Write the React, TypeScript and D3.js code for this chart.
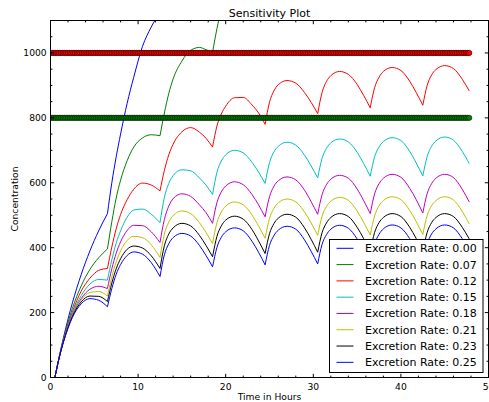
import React from 'react';
import * as d3 from 'd3';

// Simulation time grid (hours)
const times = [
  0.5, 1, 1.5, 2, 2.5, 3.5, 4.5, 5.5,
  6.5, 7, 7.5, 8, 8.75, 9.5, 10.5, 11.5,
  12.5, 13, 13.5, 14, 15, 16, 17, 17.75,
  18.5, 19, 19.5, 20, 21, 22, 23, 23.75,
  24.5, 25, 25.5, 26, 27, 28, 29, 29.75,
  30.5, 31, 31.5, 32, 33, 34, 35, 35.75,
  36.5, 37, 37.5, 38, 39, 40, 41, 41.75,
  42.5, 43, 43.5, 44, 45, 46, 47, 47.8,
];
const doseTimes = [6.5, 12.5, 18.5, 24.5, 30.5, 36.5, 42.5];
const rateLabels = ['0.00', '0.07', '0.12', '0.15', '0.18', '0.21', '0.23', '0.25'];

const N = null;
const conc000 = [
  0, 65, 125, 180, 230, 317, 390, 452,
  505, 600, 680, 750, 845, 925, 1020, 1080,
  1125, N, N, N, N, N, N, N,
  N, N, N, N, N, N, N, N,
  N, N, N, N, N, N, N, N,
  N, N, N, N, N, N, N, N,
  N, N, N, N, N, N, N, N,
  N, N, N, N, N, N, N, N,
];
const conc007 = [
  0, 64, 120, 170, 213, 282, 333, 369,
  396, 480, 553, 608, 668, 710, 738, 748,
  745, 815, 875, 920, 975, 1008, 1017, 1010,
  1002, 1075, 1135, N, N, N, N, N,
  N, N, N, N, N, N, N, N,
  N, N, N, N, N, N, N, N,
  N, N, N, N, N, N, N, N,
  N, N, N, N, N, N, N, N,
];
const conc012 = [
  0, 63, 117, 163, 202, 266, 306, 330,
  336, 402, 458, 502, 548, 580, 599, 593,
  575, 638, 686, 719, 757, 770, 756, 737,
  710, 775, 812, 836, 862, 863, 840, 815,
  780, 848, 883, 902, 915, 907, 878, 848,
  813, 878, 912, 930, 943, 934, 903, 869,
  831, 893, 925, 943, 955, 946, 913, 878,
  839, 900, 932, 949, 961, 952, 919, 883,
];
const conc015 = [
  0, 63, 115, 160, 197, 252, 288, 302,
  300, 363, 414, 452, 494, 516, 519, 503,
  477, 555, 598, 622, 640, 637, 615, 593,
  564, 632, 667, 686, 700, 692, 663, 633,
  598, 662, 695, 712, 725, 716, 685, 652,
  615, 675, 706, 723, 735, 726, 694, 659,
  620, 680, 710, 727, 739, 730, 697, 661,
  621, 681, 712, 729, 741, 731, 697, 659,
];
const conc018 = [
  0, 62, 114, 157, 192, 243, 272, 281,
  274, 335, 383, 418, 453, 469, 468, 449,
  416, 487, 528, 551, 566, 558, 532, 508,
  475, 539, 572, 590, 603, 594, 564, 532,
  495, 557, 589, 606, 618, 609, 577, 542,
  503, 563, 594, 611, 623, 614, 581, 545,
  505, 566, 597, 614, 626, 617, 583, 548,
  507, 567, 597, 614, 626, 616, 580, 541,
];
const conc021 = [
  0, 62, 113, 156, 191, 239, 262, 265,
  251, 310, 356, 390, 422, 435, 431, 409,
  370, 442, 479, 499, 513, 505, 477, 447,
  413, 477, 510, 528, 541, 532, 501, 467,
  429, 490, 521, 538, 550, 541, 510, 476,
  438, 497, 527, 543, 555, 546, 513, 478,
  439, 498, 529, 545, 557, 548, 515, 480,
  441, 499, 529, 545, 557, 547, 512, 473,
];
const conc023 = [
  0, 62, 112, 154, 188, 233, 251, 250,
  234, 291, 335, 366, 395, 405, 399, 375,
  336, 406, 442, 461, 475, 467, 438, 407,
  372, 435, 467, 485, 497, 488, 456, 421,
  382, 443, 474, 491, 503, 494, 461, 426,
  386, 446, 476, 493, 505, 496, 463, 428,
  388, 447, 477, 493, 505, 496, 463, 428,
  389, 447, 477, 493, 505, 496, 463, 427,
];
const conc025 = [
  0, 61, 111, 152, 185, 227, 243, 238,
  218, 274, 318, 348, 376, 387, 380, 354,
  311, 378, 412, 431, 444, 436, 407, 376,
  341, 401, 432, 449, 461, 452, 420, 386,
  347, 407, 437, 454, 466, 457, 424, 389,
  350, 410, 440, 457, 469, 460, 427, 391,
  351, 411, 441, 458, 470, 461, 428, 392,
  352, 411, 442, 458, 470, 461, 428, 391,
];

// Threshold marker rows
const thresholdLevels = [1000, 800];
const markerTimes = d3.range(0, 47.9, 0.2);

const xTicks = [0, 10, 20, 30, 40, 50];
const yTicks = [0, 200, 400, 600, 800, 1000];

export default function App() {
  const W = 489, H = 402;
  const L = 50.5, R = 488.5, T = 20.5, B = 377.5;
  const x = d3.scaleLinear().domain([0, 50]).range([L, R]);
  const y = d3.scaleLinear().domain([0, 1100]).range([B, T]);
  const font = 'DejaVu Sans';

  const series = [conc000, conc007, conc012, conc015, conc018, conc021, conc023, conc025];
  const colors = ['#0000ff', '#008000', '#ff0000', '#00bfbf', '#bf00bf', '#bfbf00', '#000000', '#0000ff'];
  const markerColors = ['#ff0000', '#008000'];

  const breaks = doseTimes.map((t) => times.indexOf(t));
  const starts = [0, ...breaks];
  const pieces = starts.map((s, i) => [s, i + 1 < starts.length ? starts[i + 1] : times.length - 1]);

  const line = d3
    .line<[number, number | null]>()
    .defined((d) => d[1] != null)
    .x((d) => x(d[0]))
    .y((d) => y(d[1] as number))
    .curve(d3.curveMonotoneX);

  const xMinor = d3.range(0, 50.001, 2).filter((v) => v % 10 !== 0);
  const yMinor = d3.range(0, 1100.001, 50).filter((v) => v % 200 !== 0);
  const maj = 3.7, mnr = 1.9;

  const legendRowY = (i: number) => 248.3 + i * 16.29;

  return (
    <svg width={W} height={H} style={{ position: 'absolute', left: 0, top: 0, background: '#fff' }}>
      <rect x={0} y={0} width={W} height={H} fill="#fff" />
      <defs>
        <clipPath id="plotclip">
          <rect x={L} y={T} width={R - L} height={B - T} />
        </clipPath>
      </defs>
      <g clipPath="url(#plotclip)">
        {series.map((vals, si) =>
          pieces.map(([a, b], pi) => {
            const pts: [number, number | null][] = [];
            for (let k = a; k <= b; k++) pts.push([times[k], vals[k]]);
            return (
              <path key={`${si}-${pi}`} d={line(pts) || ''} fill="none" stroke={colors[si]} strokeWidth={1} />
            );
          })
        )}
        {thresholdLevels.map((lv, li) =>
          markerTimes.map((t, k) => (
            <circle key={`m${li}-${k}`} cx={x(t)} cy={y(lv)} r={2.7} fill={markerColors[li]} stroke="#000" strokeWidth={0.5} />
          ))
        )}
      </g>
      {/* spines */}
      <rect x={L} y={T} width={R - L} height={B - T} fill="none" stroke="#000" strokeWidth={1} />
      {/* ticks */}
      {xTicks.map((v) => (
        <g key={`xt${v}`}>
          <line x1={x(v)} x2={x(v)} y1={B} y2={B - maj} stroke="#000" />
          <line x1={x(v)} x2={x(v)} y1={T} y2={T + maj} stroke="#000" />
          <text x={x(v)} y={389.5} fontSize={9.2} fontFamily={font} textAnchor="middle" fill="#000">{v}</text>
        </g>
      ))}
      {xMinor.map((v) => (
        <g key={`xm${v}`}>
          <line x1={x(v)} x2={x(v)} y1={B} y2={B - mnr} stroke="#000" />
          <line x1={x(v)} x2={x(v)} y1={T} y2={T + mnr} stroke="#000" />
        </g>
      ))}
      {yTicks.map((v) => (
        <g key={`yt${v}`}>
          <line x1={L} x2={L + maj} y1={y(v)} y2={y(v)} stroke="#000" />
          <line x1={R} x2={R - maj} y1={y(v)} y2={y(v)} stroke="#000" />
          <text x={46.7} y={y(v) + 3.4} fontSize={9.2} fontFamily={font} textAnchor="end" fill="#000">{v}</text>
        </g>
      ))}
      {yMinor.map((v) => (
        <g key={`ym${v}`}>
          <line x1={L} x2={L + mnr} y1={y(v)} y2={y(v)} stroke="#000" />
          <line x1={R} x2={R - mnr} y1={y(v)} y2={y(v)} stroke="#000" />
        </g>
      ))}
      {/* labels */}
      <text x={(L + R) / 2} y={16.7} fontSize={11} fontFamily={font} textAnchor="middle" fill="#000">Sensitivity Plot</text>
      <text x={(L + R) / 2} y={400} fontSize={9.2} fontFamily={font} textAnchor="middle" fill="#000">Time in Hours</text>
      <text transform={`translate(18.3, ${(T + B) / 2}) rotate(-90)`} fontSize={9.2} fontFamily={font} textAnchor="middle" fill="#000">Concentration</text>
      {/* legend */}
      <rect x={329.5} y={239.5} width={153.5} height={133} fill="#fff" stroke="#000" strokeWidth={1} />
      {rateLabels.map((lab, i) => (
        <g key={`lg${i}`}>
          <line x1={336.5} x2={353.5} y1={legendRowY(i)} y2={legendRowY(i)} stroke={colors[i]} strokeWidth={1} />
          <text x={365} y={legendRowY(i) + 4} fontSize={11} fontFamily={font} fill="#000">{`Excretion Rate: ${lab}`}</text>
        </g>
      ))}
    </svg>
  );
}
